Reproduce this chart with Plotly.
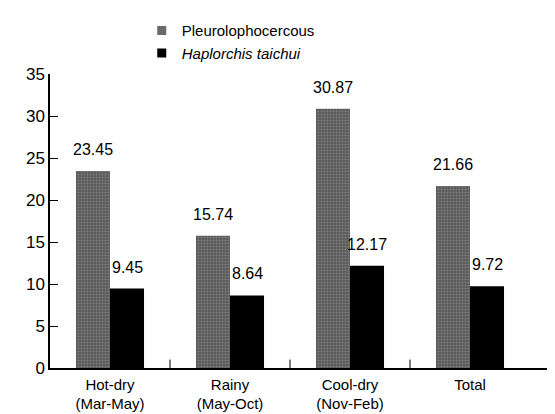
import plotly.graph_objects as go

categories = ["Hot-dry<br>(Mar-May)", "Rainy<br>(May-Oct)", "Cool-dry<br>(Nov-Feb)", "Total"]
pleuro = [23.45, 15.74, 30.87, 21.66]
haplo = [9.45, 8.64, 12.17, 9.72]
series_names = ["Pleurolophocercous", "<i>Haplorchis taichui</i>"]
y_ticks = [0, 5, 10, 15, 20, 25, 30, 35]

font = dict(family="Liberation Sans, Arial, sans-serif", size=15, color="black")

fig = go.Figure()
fig.add_trace(go.Bar(
    x=categories, y=pleuro, name=series_names[0], offsetgroup="a", showlegend=False,
    marker=dict(color="#5a5a5a", line=dict(width=0),
                pattern=dict(shape=".", fgcolor="#a8a8a8", size=3, solidity=0.3)),
))
fig.add_trace(go.Bar(
    x=categories, y=haplo, name=series_names[1], offsetgroup="b", showlegend=False,
    marker=dict(color="black", line=dict(width=0)),
))
# legend entries with small square swatches
for nm, col in zip(series_names, ["#6a6a6a", "black"]):
    fig.add_trace(go.Scatter(x=[None], y=[None], mode="markers", name=nm,
                             marker=dict(symbol="square", size=9, color=col,
                                         line=dict(width=0))))

# value labels above bars
for i, (p, h) in enumerate(zip(pleuro, haplo)):
    for val, dx in ((p, -0.1417), (h, 0.1417)):
        fig.add_annotation(x=i + dx, y=val, xref="x", yref="y", text=f"{val:.2f}",
                           showarrow=False, yanchor="bottom", yshift=11,
                           font=dict(size=16, color="black"))

fig.update_layout(
    width=555, height=414,
    margin=dict(l=42, r=0, t=66, b=54, autoexpand=False),
    paper_bgcolor="white", plot_bgcolor="white",
    font=font,
    barmode="group", bargap=0.433, bargroupgap=0,
    showlegend=True,
    legend=dict(xref="container", yref="container", x=0.241, y=0.985,
                xanchor="left", yanchor="top",
                bgcolor="rgba(0,0,0,0)", font=dict(size=15),
                itemwidth=30, tracegroupgap=0),
    xaxis=dict(range=[-0.5, 3.775], showline=True, linecolor="black", linewidth=1.5,
               showgrid=False, ticks="", tickfont=dict(size=15), ticklabelstandoff=2,
               automargin=False),
    yaxis=dict(range=[0, 35], tickvals=y_ticks, showline=True, linecolor="black",
               linewidth=1.5, showgrid=False, zeroline=False, ticks="inside",
               ticklen=8, tickcolor="black", tickfont=dict(size=17), automargin=False),
)

# category separator ticks on x axis (inside, pointing up)
for b in [0.5, 1.5, 2.5]:
    fig.add_shape(type="line", xref="x", yref="y", x0=b, x1=b, y0=0, y1=1,
                  line=dict(color="black", width=1))

fig.write_html("out.html")
